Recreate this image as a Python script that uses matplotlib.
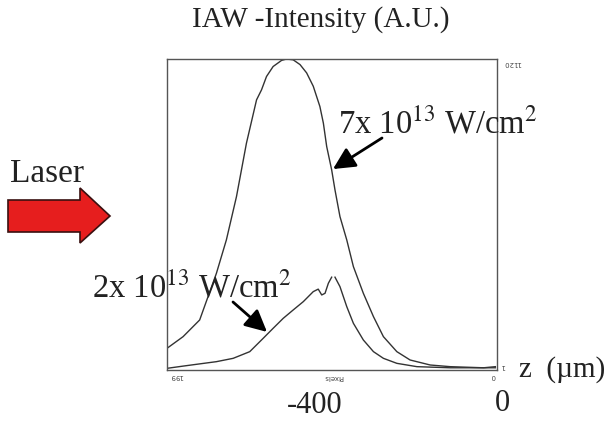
import matplotlib
matplotlib.use('Agg')
import matplotlib.pyplot as plt
from matplotlib.patches import Polygon
import numpy as np

plt.rcParams['font.family'] = ['Liberation Serif', 'DejaVu Serif']
plt.rcParams['mathtext.fontset'] = 'stix'

# --- data (x: detector pixel, 199 at left .. 0 at right; y: A.U.) ---
pix_high = [199.0, 189.3, 179.3, 169.2, 163.2, 157.1, 151.1, 145.0, 142.0, 139.0,
            135.0, 129.9, 126.9, 122.9, 118.8, 114.8, 110.8, 106.8, 104.7, 102.7,
            99.7, 97.7, 94.7, 90.6, 86.6, 80.6, 74.5, 68.5, 60.4, 52.4,
            40.3, 28.2, 8.1, 1.0]
int_high = [79, 121, 181, 349, 469, 625, 817, 973, 1009, 1057,
            1093, 1115, 1120, 1117, 1100, 1070, 1022, 949, 889, 805,
            721, 649, 553, 469, 373, 277, 193, 121, 67, 37,
            19, 13, 9, 13]

# small curve has a short break right at its peak (NaN)
pix_low = [199.0, 189.3, 179.3, 169.2, 159.1, 149.1, 141.0, 135.0, 128.9, 122.9,
           116.8, 110.8, 107.8, 105.7, 103.7, 101.7, 99.7, 98.7, 97.7, 94.7,
           90.6, 86.6, 80.6, 74.5, 68.5, 60.4, 48.3, 28.2, 1.0]
int_low = [7, 15, 23, 31, 43, 67, 115, 151, 187, 217,
           247, 283, 292, 271, 277, 313, 335, np.nan, 335, 301,
           229, 169, 109, 67, 43, 25, 13, 9, 9]

W, H = 609, 421
fig = plt.figure(figsize=(W / 100, H / 100), dpi=100)
ax = fig.add_axes([167 / W, 1 - 370 / H, 330 / W, 311 / H])

ax.plot(pix_high, int_high, color='#333333', lw=1.0)
ax.plot(pix_low, int_low, color='#333333', lw=1.0)
ax.set_xlim(199, 0)
ax.set_ylim(1, 1120)
ax.set_xticks([])
ax.set_yticks([])
for s in ax.spines.values():
    s.set_color('#555555')
    s.set_linewidth(1.0)


def ftext(x, y, s, **kw):
    # x, y in picture pixels (top-left origin)
    return fig.text(x / W, 1 - y / H, s, **kw)


# tiny upside-down labels of the original instrument plot
small = dict(fontsize=5, rotation=180, color='#444444', family='DejaVu Sans', va='center', ha='center')
ftext(176, 376, '199', **small)
ftext(333, 377, 'Pixels', **small)
ftext(493, 376, '0', **small)
ftext(512, 63, '1120', **small)
ftext(503, 366, '1', **small)

# titles and labels
ftext(321, 20, 'IAW -Intensity (A.U.)', fontsize=21, ha='center', va='center', color='#222222')
ftext(10, 182, 'Laser', fontsize=24, ha='left', va='baseline', color='#222222')
ftext(338, 133, r'7x 10$^{13}$ W/cm$^{2}$', fontsize=23.5, ha='left', va='baseline', color='#222222')
ftext(92, 297, r'2x 10$^{13}$ W/cm$^{2}$', fontsize=23.5, ha='left', va='baseline', color='#222222')
ftext(519, 377, 'z  (µm)', fontsize=21, ha='left', va='baseline', color='#222222')
ftext(315, 413, '-400', fontsize=22, ha='center', va='baseline', color='#222222')
ftext(502, 411, '0', fontsize=22, ha='center', va='baseline', color='#222222')

# arrows to the curves
arr = dict(arrowstyle='-|>,head_length=0.6,head_width=0.3', color='black', lw=2,
           mutation_scale=22, shrinkA=0, shrinkB=0)
ax.annotate('', xy=(98.9, 724), xycoords='data',
            xytext=(382, H - 138), textcoords='figure pixels', arrowprops=arr)
ax.annotate('', xy=(138.7, 138), xycoords='data',
            xytext=(233, H - 302), textcoords='figure pixels', arrowprops=arr)

# red laser arrow
pts = [(8, 200), (80, 200), (80, 188), (110, 216), (80, 243), (80, 232), (8, 232)]
fig.patches.append(Polygon([(x / W, 1 - y / H) for x, y in pts], closed=True,
                           transform=fig.transFigure, facecolor='#e61e1e',
                           edgecolor='#3a1010', lw=1.2))

fig.savefig('out.png', dpi=100)
